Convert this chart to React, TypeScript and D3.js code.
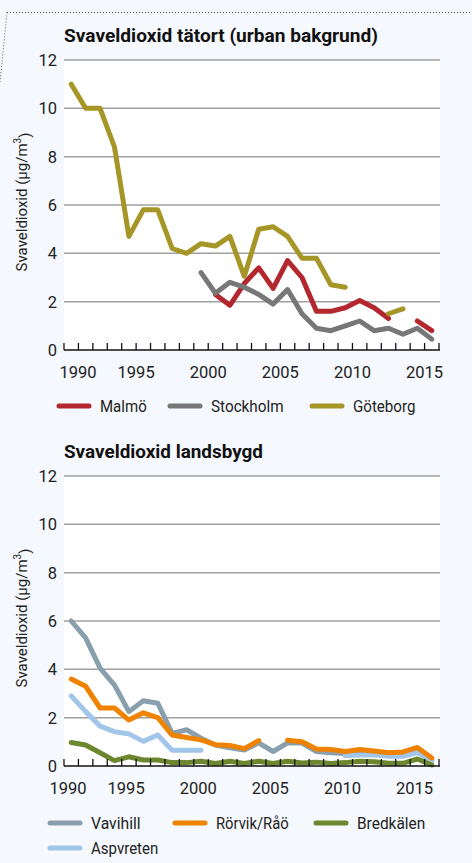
import React from "react";
import * as d3 from "d3";

// ---------- data ----------
const years = [1990, 1991, 1992, 1993, 1994, 1995, 1996, 1997, 1998, 1999, 2000, 2001, 2002, 2003, 2004, 2005, 2006, 2007, 2008, 2009, 2010, 2011, 2012, 2013, 2014, 2015];

const malmo = [null, null, null, null, null, null, null, null, null, null, 2.3, 1.85, 2.75, 3.4, 2.55, 3.7, 3.0, 1.6, 1.6, 1.75, 2.05, 1.75, 1.3, null, 1.2, 0.8];
const stockholm = [null, null, null, null, null, null, null, null, null, 3.2, 2.35, 2.8, 2.6, 2.3, 1.9, 2.5, 1.5, 0.9, 0.8, 1.0, 1.2, 0.8, 0.9, 0.65, 0.9, 0.45];
const goteborg = [11, 10, 10, 8.4, 4.7, 5.8, 5.8, 4.2, 4.0, 4.4, 4.3, 4.7, 3.05, 5.0, 5.1, 4.7, 3.8, 3.8, 2.7, 2.6, null, null, 1.5, 1.7, null, null];

const vavihill = [6.0, 5.3, 4.05, 3.35, 2.25, 2.7, 2.6, 1.35, 1.5, 1.15, 0.87, 0.75, 0.66, 0.96, 0.6, 0.96, 0.95, 0.6, 0.55, 0.52, 0.5, 0.5, 0.45, 0.45, 0.6, 0.25];
const rorvik = [3.6, 3.3, 2.4, 2.4, 1.9, 2.2, 2.0, 1.28, 1.18, 1.08, 0.88, 0.85, 0.72, 1.05, null, 1.07, 1.0, 0.7, 0.68, 0.6, 0.68, 0.62, 0.55, 0.58, 0.77, 0.33];
const bredkalen = [0.97, 0.87, 0.55, 0.22, 0.38, 0.25, 0.25, 0.14, 0.14, 0.2, 0.1, 0.2, 0.1, 0.2, 0.1, 0.2, 0.12, 0.16, 0.1, 0.14, 0.2, 0.18, 0.11, 0.11, 0.29, 0.04];
const aspvreten = [2.9, 2.25, 1.65, 1.42, 1.33, 1.02, 1.28, 0.65, 0.65, 0.65, null, null, null, null, null, null, null, null, null, 0.42, 0.45, 0.46, 0.4, 0.4, 0.56, 0.2];

const yTicks = [0, 2, 4, 6, 8, 10, 12];
const xTickLabels = [1990, 1995, 2000, 2005, 2010, 2015];
const axisTickYears = [1990, 1991, 1992, 1993, 1994, 1995, 1996, 1997, 1998, 1999, 2000, 2001, 2002, 2003, 2004, 2005, 2006, 2007, 2008, 2009, 2010, 2011, 2012, 2013, 2014, 2015, 2016];

const title1 = "Svaveldioxid tätort (urban bakgrund)";
const title2 = "Svaveldioxid landsbygd";

const topSeries = [
  { name: "Malmö", values: malmo, color: "#b3272e" },
  { name: "Stockholm", values: stockholm, color: "#777777" },
  { name: "Göteborg", values: goteborg, color: "#a69628" },
];
const bottomSeries = [
  { name: "Vavihill", values: vavihill, color: "#8a9fae" },
  { name: "Rörvik/Råö", values: rorvik, color: "#ef8300" },
  { name: "Bredkälen", values: bredkalen, color: "#6c872e" },
  { name: "Aspvreten", values: aspvreten, color: "#a2c5ea" },
];
// drawing order (back to front) for the lower panel
const bottomDrawOrder = ["Vavihill", "Aspvreten", "Rörvik/Råö", "Bredkälen"];

// ---------- layout ----------
const W = 472;
const H = 863;
const BG = "#f5f8fd";
const FONT = "Roboto, 'Liberation Sans', Arial, sans-serif";
const LEFT = 64;
const RIGHT = 440;

const x = d3.scaleLinear().domain([1990, 2016]).range([LEFT, 439]);

type Series = { name: string; values: (number | null)[]; color: string };

function Panel({ top, bottom, series, labelShift, firstLabelShift, yLabelCenter }: {
  top: number; bottom: number; series: Series[]; labelShift: number; firstLabelShift: number; yLabelCenter: number;
}) {
  const y = d3.scaleLinear().domain([0, 12]).range([bottom, top]);
  const line = d3
    .line<[number, number | null]>()
    .defined((d) => d[1] !== null)
    .x((d) => x(d[0] + 0.5))
    .y((d) => y(d[1] as number));
  return (
    <g>
      <rect x={LEFT} y={top} width={RIGHT - LEFT} height={bottom - top} fill="#ffffff" />
      {yTicks.filter((t) => t > 0).map((t) => (
        <line key={t} x1={LEFT} x2={RIGHT} y1={y(t)} y2={y(t)} stroke="#a0a0a0" strokeWidth={1.5} />
      ))}
      {yTicks.map((t) => (
        <text key={"l" + t} x={57} y={y(t)} dy="0.36em" textAnchor="end" fontSize={16.5} fill="#222" fontFamily={FONT}>
          {t}
        </text>
      ))}
      <text
        transform={`translate(${22},${yLabelCenter}) rotate(-90)`}
        dy="0.35em"
        textAnchor="middle"
        fontSize={15}
        fill="#222"
        fontFamily={FONT}
      >
        Svaveldioxid (µg/m<tspan fontSize={10} dy="-0.6em">3</tspan><tspan dy="0.6em">)</tspan>
      </text>
      {series.map((s) => (
        <path
          key={s.name}
          d={line(years.map((yr, i) => [yr, s.values[i]] as [number, number | null])) || ""}
          fill="none"
          stroke={s.color}
          strokeWidth={5}
          strokeLinejoin="round"
          strokeLinecap="round"
        />
      ))}
      <line x1={LEFT} x2={RIGHT} y1={bottom} y2={bottom} stroke="#111" strokeWidth={1.5} />
      {axisTickYears.map((yr) => (
        <line key={"t" + yr} x1={x(yr)} x2={x(yr)} y1={bottom} y2={bottom - 7} stroke="#111" strokeWidth={1.3} />
      ))}
      {xTickLabels.map((yr, i) => (
        <text
          key={"x" + yr}
          x={x(yr) + labelShift + (i === 0 ? firstLabelShift : 0)}
          y={bottom + 28}
          textAnchor="middle"
          fontSize={16.5}
          fill="#222"
          fontFamily={FONT}
        >
          {yr}
        </text>
      ))}
    </g>
  );
}

function LegendItem({ xs, y, color, label, width }: { xs: number; y: number; color: string; label: string; width: number }) {
  return (
    <g>
      <line x1={xs + 2} x2={xs + 32} y1={y} y2={y} stroke={color} strokeWidth={5} strokeLinecap="round" />
      <text x={xs + 43} y={y + 6} fontSize={16} fill="#222" fontFamily={FONT} textLength={width} lengthAdjust="spacingAndGlyphs">
        {label}
      </text>
    </g>
  );
}

export default function App() {
  const orderedBottom = bottomDrawOrder.map((n) => bottomSeries.find((s) => s.name === n) as Series);
  return (
    <svg width={W} height={H} style={{ position: "absolute", left: 0, top: 0, display: "block" }}>
      <rect x={0} y={0} width={W} height={H} fill={BG} />
      <line x1={7} x2={W} y1={12.5} y2={12.5} stroke="#555" strokeWidth={1} strokeDasharray="1,2" />
      <line x1={7} x2={0} y1={12.5} y2={82} stroke="#555" strokeWidth={1} strokeDasharray="1,2" />

      <text x={64} y={42} fontSize={19} fontWeight={700} fill="#111" fontFamily={FONT} textLength={314} lengthAdjust="spacingAndGlyphs">
        {title1}
      </text>
      <Panel top={60} bottom={350} series={topSeries} labelShift={0} firstLabelShift={14} yLabelCenter={202} />
      <LegendItem xs={57} y={406} color={topSeries[0].color} label={topSeries[0].name} width={46.7} />
      <LegendItem xs={168} y={406} color={topSeries[1].color} label={topSeries[1].name} width={72.6} />
      <LegendItem xs={310} y={406} color={topSeries[2].color} label={topSeries[2].name} width={62.4} />

      <text x={64} y={457.5} fontSize={19} fontWeight={700} fill="#111" fontFamily={FONT} textLength={199} lengthAdjust="spacingAndGlyphs">
        {title2}
      </text>
      <Panel top={476} bottom={766} series={orderedBottom} labelShift={-10} firstLabelShift={14} yLabelCenter={618} />
      <LegendItem xs={48} y={823} color={bottomSeries[0].color} label={bottomSeries[0].name} width={49.6} />
      <LegendItem xs={173} y={823} color={bottomSeries[1].color} label={bottomSeries[1].name} width={72.7} />
      <LegendItem xs={314} y={823} color={bottomSeries[2].color} label={bottomSeries[2].name} width={68.3} />
      <LegendItem xs={48} y={848} color={bottomSeries[3].color} label={bottomSeries[3].name} width={67.3} />
    </svg>
  );
}
